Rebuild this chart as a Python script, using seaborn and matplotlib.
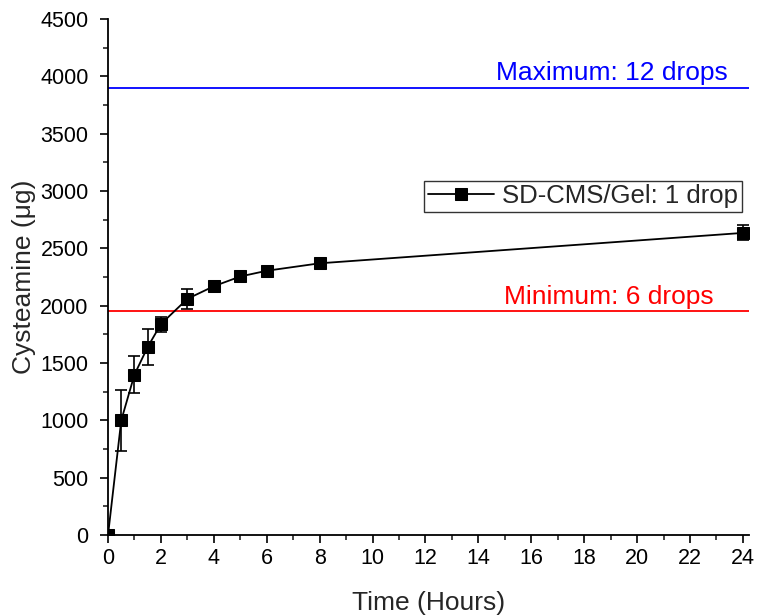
import matplotlib
matplotlib.use("Agg")
import matplotlib.pyplot as plt
from matplotlib.ticker import MultipleLocator
import seaborn as sns
import pandas as pd

# Release profile of cysteamine from one drop of SD-CMS/Gel
time_h = [0, 0.5, 1, 1.5, 2, 3, 4, 5, 6, 8, 24]
cysteamine_ug = [0, 1000, 1400, 1640, 1840, 2060, 2170, 2255, 2305, 2370, 2635]
cysteamine_sd = [0, 265, 165, 155, 65, 85, 25, 20, 20, 20, 65]

# Reference dose levels
max_level = 3900
min_level = 1950
max_label = "Maximum: 12 drops"
min_label = "Minimum: 6 drops"
series_label = "SD-CMS/Gel: 1 drop"

df = pd.DataFrame({"Time": time_h, "Cysteamine": cysteamine_ug, "SD": cysteamine_sd})

sns.set_style("ticks")
plt.rcParams["font.family"] = ["Liberation Sans", "DejaVu Sans"]

fig = plt.figure(figsize=(7.57, 6.15), dpi=100)
ax = fig.add_axes([0.1427, 0.130, 0.9894 - 0.1427, 0.969 - 0.130])

ax.errorbar(df["Time"], df["Cysteamine"], yerr=df["SD"], fmt="none",
            ecolor="black", elinewidth=1.2, capsize=4, capthick=1.2,
            zorder=3)
sns.lineplot(data=df, x="Time", y="Cysteamine", ax=ax, color="black",
             marker="s", markersize=9, markeredgecolor="black",
             linewidth=1.3, label=series_label, zorder=4)

ax.axhline(max_level, color="#0000ff", linewidth=1.3, zorder=2)
ax.axhline(min_level, color="#ff0000", linewidth=1.3, zorder=2)
ax.text(19.05, max_level + 25, max_label, color="#0000ff", fontsize=19,
        ha="center", va="bottom")
ax.text(18.95, min_level + 25, min_label, color="#ff0000", fontsize=19,
        ha="center", va="bottom")

ax.set_xlim(0, 24.23)
ax.set_ylim(0, 4500)
ax.xaxis.set_major_locator(MultipleLocator(2))
ax.xaxis.set_minor_locator(MultipleLocator(1))
ax.yaxis.set_major_locator(MultipleLocator(500))
ax.yaxis.set_minor_locator(MultipleLocator(250))
ax.tick_params(which="major", direction="out", length=6, width=1.2,
               labelsize=15.5, colors="black")
ax.tick_params(axis="x", which="major", pad=3)
ax.tick_params(axis="y", which="major", pad=8)
ax.tick_params(which="minor", direction="out", length=3.5, width=1.2)
for s in ["left", "bottom"]:
    ax.spines[s].set_linewidth(1.3)
    ax.spines[s].set_color("black")
sns.despine(ax=ax)

ax.set_xlabel("Time (Hours)", fontsize=19, labelpad=16)
ax.set_ylabel("Cysteamine (μg)", fontsize=19, labelpad=3)

leg = ax.legend(loc="upper right", bbox_to_anchor=(0.989, 0.687),
                fontsize=18.5, frameon=True, fancybox=False, handlelength=2.6,
                borderpad=0.15, handletextpad=0.3, borderaxespad=0)
leg.get_frame().set_edgecolor("black")
leg.get_frame().set_linewidth(1.0)

fig.savefig("out.png", dpi=100)
